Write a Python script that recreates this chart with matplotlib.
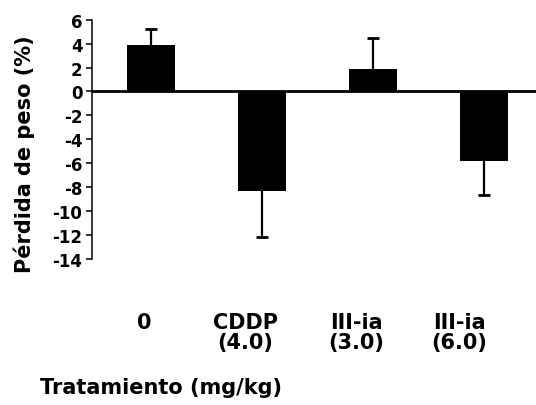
import matplotlib.pyplot as plt
import numpy as np

plt.rcParams['font.family'] = ['DejaVu Sans']
plt.rcParams['font.weight'] = 'bold'
plt.rcParams['axes.unicode_minus'] = False

categories = ['0', 'CDDP\n(4.0)', 'III-ia\n(3.0)', 'III-ia\n(6.0)']
weight_loss = [3.9, -8.3, 1.85, -5.8]
error = [1.3, 3.9, 2.65, 2.9]

x = np.arange(len(categories))
vals = np.array(weight_loss)
errs = np.array(error)

fig = plt.figure(figsize=(5.36, 4.06), dpi=100)
ax = fig.add_axes([0.172, 0.36, 0.828, 0.589])

ax.bar(x, weight_loss, width=0.43, color='black')

# error bars only on the side away from zero, cap only at the far end
pos = vals > 0
neg = ~pos
_, caps_p, _ = ax.errorbar(x[pos], vals[pos], yerr=[np.zeros(pos.sum()), errs[pos]],
                           fmt='none', ecolor='black', elinewidth=1.6,
                           capsize=4, capthick=2)
caps_p[0].remove()
_, caps_n, _ = ax.errorbar(x[neg], vals[neg], yerr=[errs[neg], np.zeros(neg.sum())],
                           fmt='none', ecolor='black', elinewidth=1.6,
                           capsize=4, capthick=2)
caps_n[1].remove()

ax.axhline(0, color='black', lw=2)

ax.set_xlim(-0.53, 3.47)
ax.set_ylim(-14, 6)
ax.set_yticks(np.arange(-14, 7, 2))
ax.tick_params(axis='y', labelsize=12, length=4, width=1.1, pad=3)

label_shift = [-0.06, -0.15, -0.15, -0.22]
ax.set_xticks(x + np.array(label_shift))
ax.set_xticklabels(categories, fontsize=15, linespacing=1.0)
ax.tick_params(axis='x', length=0, pad=38)

for side in ('top', 'right', 'bottom'):
    ax.spines[side].set_visible(False)
ax.spines['left'].set_linewidth(1.1)

ax.set_ylabel('Pérdida de peso (%)', fontsize=15, fontweight='bold')
ax.yaxis.set_label_coords(-0.128, 0.44)

fig.text(0.075, 0.044, 'Tratamiento (mg/kg)', fontsize=15, fontweight='bold',
         ha='left', va='center')

fig.savefig('out.png', dpi=100)
